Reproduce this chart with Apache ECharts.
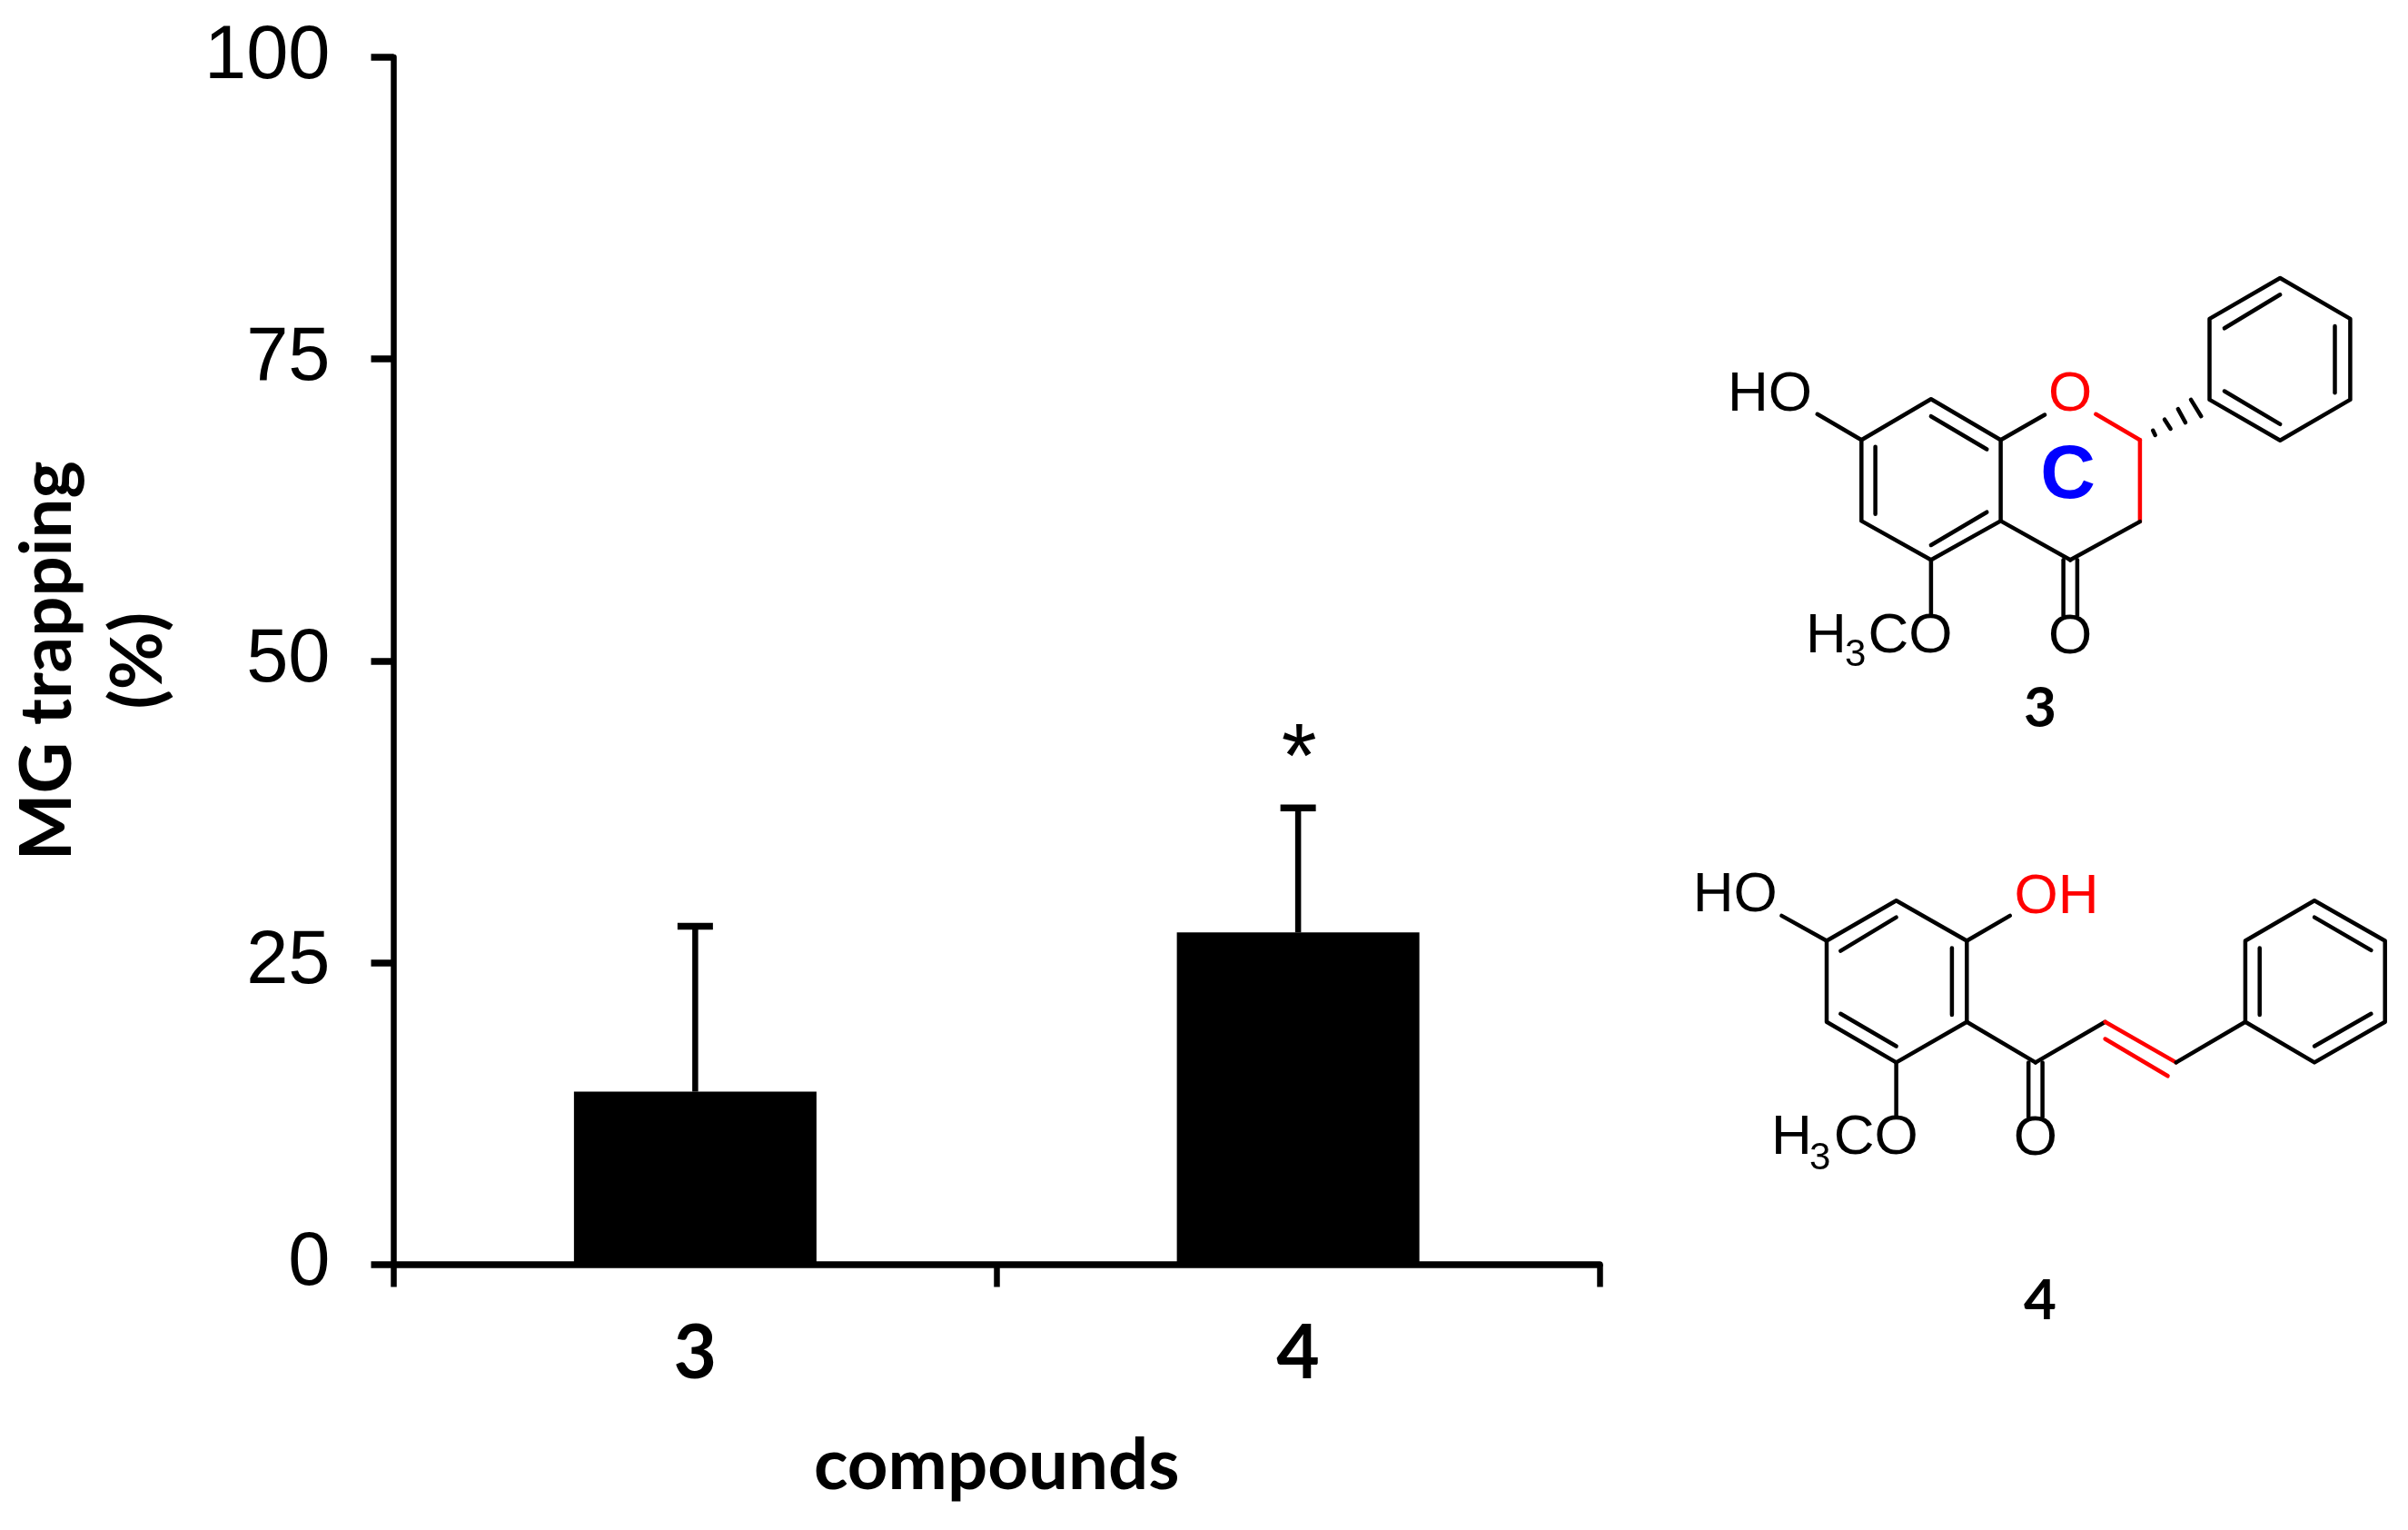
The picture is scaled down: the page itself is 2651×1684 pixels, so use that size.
<!DOCTYPE html>
<html>
<head>
<meta charset="utf-8">
<style>
html, body { margin: 0; padding: 0; background: #fff; }
#main { width: 2651px; height: 1684px; }
</style>
<script src="https://cdn.jsdelivr.net/npm/echarts@6/dist/echarts.min.js"></script>
</head>
<body>
<div id="main"></div>
<script>
var compounds = ['3', '4'];
var trapping = [14.3, 27.5];
var errorTop = [28.0, 37.8];
var significance = ['', '*'];
var yTicks = [0, 25, 50, 75, 100];

var myChart = echarts.init(document.getElementById('main'));

var sansFont = '"Liberation Sans", Arial, sans-serif';
var boldFont = 'Lato, "Open Sans", sans-serif';

//structure drawing helpers
function bond(x1, y1, x2, y2, color) {
	return {
		type : 'line',
		shape : { x1 : x1, y1 : y1, x2 : x2, y2 : y2 },
		style : { stroke : color || '#000', lineWidth : 4.5, lineCap : 'round' }
	};
}
function ring(points) {
	return {
		type : 'polygon',
		shape : { points : points },
		style : { fill : 'none', stroke : '#000', lineWidth : 4.5, lineJoin : 'round' }
	};
}
function atom(text, x, y, align, size, color, font) {
	return {
		type : 'text',
		style : {
			text : text,
			x : x,
			y : y,
			align : align,
			verticalAlign : 'middle',
			font : (font || ('normal ' + (size || 62) + 'px ' + sansFont)),
			fill : color || '#000'
		}
	};
}

//compound 3
var molecule3 = [
	ring([[2049.3,484.2],[2125.9,439.2],[2202.6,484.2],[2202.6,573.4],[2125.9,616.3],[2049.3,573.4]]),
	bond(2064.6,491.8,2064.6,565.8),
	bond(2125.9,458.2,2187.3,494.5),
	bond(2187.3,563.7,2125.9,600),
	bond(2000.7,455.8,2049.3,484.2),
	bond(2202.6,484.2,2251.1,456.5),
	bond(2307.3,455.8,2355.9,484.2,'#f00'),
	bond(2355.9,484.2,2355.9,574.1,'#f00'),
	bond(2355.9,574.1,2279.2,616.3),
	bond(2202.6,573.4,2279.2,616.3),
	bond(2271.6,616.3,2271.6,677.2),
	bond(2286.9,616.3,2286.9,677.2),
	bond(2125.9,616.3,2125.9,676.2),
	bond(2412,439.9,2423.3,458.2),
	bond(2397.8,450.2,2406,465.1),
	bond(2383,461.7,2389.6,472),
	bond(2370.2,473.8,2372.7,479),
	ring([[2432.5,350.9],[2510.2,306],[2587.4,350.9],[2587.4,439.9],[2510.2,484.8],[2432.5,439.9]]),
	bond(2448.9,361.3,2510.2,324.3),
	bond(2570.5,358.9,2570.5,432.2),
	bond(2448.9,430.5,2510.2,466.9),
	atom('HO',1995,435,'right'),
	atom('O',2279.2,435.2,'center',62,'#f00'),
	atom('C',2276.7,524.5,'center',84,'#00f','bold 84px ' + sansFont),
	atom('H',1988,700.5,'left'),
	atom('3',2031,721.5,'left',42),
	atom('CO',2056.5,700.5,'left'),
	atom('O',2279.2,701.5,'center'),
	atom('3',2246,780,'center',62,'#000','bold 62px ' + boldFont)
];

//compound 4
var molecule4 = [
	ring([[2011,1035.5],[2087.6,991.2],[2165.3,1035.5],[2165.3,1124.8],[2087.6,1169.4],[2011,1124.8]]),
	bond(2026.3,1046.6,2087.6,1009.6),
	bond(2148.9,1043.5,2148.9,1116.9),
	bond(2026.3,1115.8,2087.6,1151.5),
	bond(1961.4,1007.9,2011,1035.5),
	bond(2165.3,1035.5,2212.8,1007.9),
	bond(2165.3,1124.8,2240.9,1169.4),
	bond(2240.9,1169.4,2317.6,1124.8),
	bond(2317.6,1124.8,2395.7,1169.4,'#f00'),
	bond(2317.6,1143.5,2386.5,1184.3,'#f00'),
	bond(2395.7,1169.4,2471.9,1124.8),
	ring([[2471.9,1035.5],[2548,991.2],[2625.7,1035.5],[2625.7,1124.8],[2548,1169.4],[2471.9,1124.8]]),
	bond(2487.7,1043.5,2487.7,1116.9),
	bond(2548,1009.6,2610.4,1045.9),
	bond(2610.4,1115.8,2548,1151.5),
	bond(2233.2,1169.4,2233.2,1229.3),
	bond(2248.6,1169.4,2248.6,1229.3),
	bond(2087.6,1169.4,2087.6,1228.3),
	atom('HO',1956.8,985.6,'right'),
	atom('OH',2217.5,987.7,'left',62,'#f00'),
	atom('H',1950,1253,'left'),
	atom('3',1992,1275.6,'left',42),
	atom('CO',2018.7,1253,'left'),
	atom('O',2240.9,1253.8,'center'),
	atom('4',2246,1431.7,'center',62,'#000','bold 62px ' + boldFont)
];

//error bars, upper side only, plus the significance mark
function renderError(params, api) {
	var i = api.value(0);
	var base = api.coord([i, api.value(1)]);
	var top = api.coord([i, api.value(2)]);
	var children = [ {
		type : 'line',
		shape : { x1 : base[0], y1 : base[1], x2 : top[0], y2 : top[1] },
		style : { stroke : '#000', lineWidth : 6.5 }
	}, {
		type : 'line',
		shape : { x1 : top[0] - 19.5, y1 : top[1], x2 : top[0] + 19.5, y2 : top[1] },
		style : { stroke : '#000', lineWidth : 7.5 }
	} ];
	if (significance[i]) {
		children.push({
			type : 'text',
			style : {
				text : significance[i],
				x : top[0] + 1,
				y : top[1] - 101,
				align : 'center',
				verticalAlign : 'top',
				font : 'normal 100px ' + sansFont,
				fill : '#000'
			}
		});
	}
	return { type : 'group', children : children };
}

var errorData = [];
for (var i = 0; i < compounds.length; i++) {
	errorData.push([ i, trapping[i], errorTop[i] ]);
}

myChart.setOption({
	backgroundColor : '#fff',
	animation : false,
	grid : {
		left : 433.5,
		top : 63,
		width : 1327.5,
		height : 1328.5,
		outerBoundsMode : 'none'
	},
	xAxis : {
		type : 'category',
		data : compounds,
		name : 'compounds',
		nameLocation : 'middle',
		nameGap : 183,
		nameTextStyle : {
			color : '#000',
			fontFamily : boldFont,
			fontWeight : 'bold',
			fontSize : 78
		},
		axisLine : { lineStyle : { color : '#000', width : 7.5 } },
		axisTick : { show : true, alignWithLabel : false, length : 25, lineStyle : { color : '#000', width : 6.5 } },
		axisLabel : {
			color : '#000',
			fontFamily : boldFont,
			fontWeight : 'bold',
			fontSize : 82,
			margin : 58
		}
	},
	yAxis : {
		type : 'value',
		min : 0,
		max : 100,
		interval : 25,
		name : 'MG trapping\n(%)',
		nameLocation : 'middle',
		nameGap : 231,
		nameRotate : 90,
		nameTextStyle : {
			color : '#000',
			fontFamily : boldFont,
			fontWeight : 'bold',
			fontSize : 78,
			lineHeight : 100
		},
		splitLine : { show : false },
		axisLine : { show : true, lineStyle : { color : '#000', width : 6.5 } },
		axisTick : { show : true, length : 25, lineStyle : { color : '#000', width : 7.5 } },
		axisLabel : {
			color : '#000',
			fontFamily : sansFont,
			fontSize : 83,
			margin : 70,
			padding : [ 7, 0, 0, 0 ],
			formatter : function(value) {
				return yTicks.indexOf(value) >= 0 ? String(value) : '';
			}
		}
	},
	series : [ {
		name : 'MG trapping',
		type : 'bar',
		data : trapping,
		barWidth : 267,
		itemStyle : { color : '#000' }
	}, {
		name : 'SD',
		type : 'custom',
		data : errorData,
		encode : { x : 0, y : 2 },
		renderItem : renderError,
		z : 3
	} ],
	graphic : molecule3.concat(molecule4)
});
</script>
</body>
</html>
